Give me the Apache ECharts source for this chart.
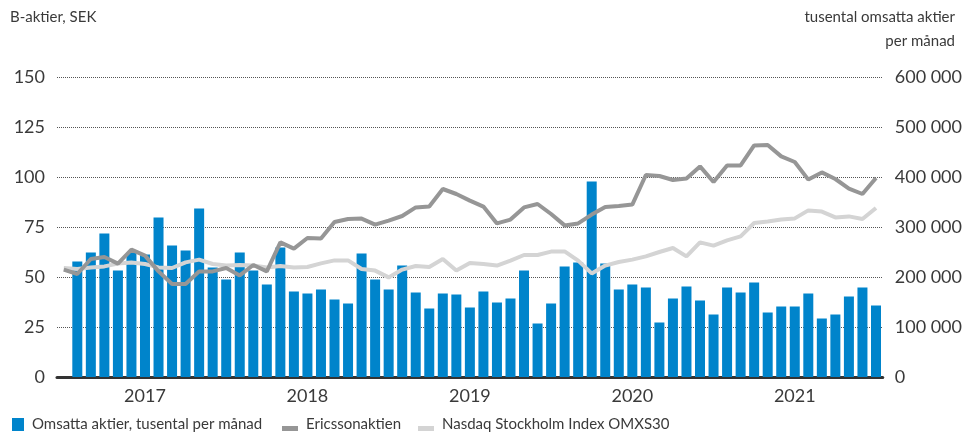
<!DOCTYPE html>
<html>
<head>
<meta charset="utf-8">
<script src="https://cdn.jsdelivr.net/npm/echarts@6/dist/echarts.min.js"></script>
<style>
  html, body { margin: 0; padding: 0; background: #fff; }
  #chart { width: 965px; height: 432px; }
</style>
</head>
<body>
<div id="chart"></div>
<script>
// månader: dec 2016 .. dec 2021 (första kategorin saknar stapel)
const months = [];
for (let y = 2016; y <= 2021; y++) {
    for (let m = 1; m <= 12; m++) {
        if (y === 2016 && m < 12) continue;
        months.push(y + '-' + (m < 10 ? '0' + m : m));
    }
}

// omsatta aktier, tusental per månad
const volume = ['-',
    231000, 249000, 287000, 213000, 249000, 245000, 319000, 263000, 253000, 337000, 219000, 195000,
    249000, 213000, 185000, 259000, 171000, 167000, 175000, 155000, 147000, 247000, 195000, 175000,
    223000, 169000, 137000, 167000, 165000, 139000, 171000, 149000, 157000, 213000, 107000, 147000,
    221000, 229000, 391000, 227000, 175000, 185000, 179000, 109000, 157000, 181000, 153000, 125000,
    179000, 169000, 189000, 129000, 141000, 141000, 167000, 117000, 125000, 161000, 179000, 143000
];

// Ericssonaktien, SEK
const ericsson = [53.7,
    51.5, 59.0, 60.0, 56.7, 63.7, 60.7, 52.8, 46.5, 46.5, 52.8, 52.8, 54.5,
    50.8, 56.0, 52.8, 67.3, 64.2, 69.5, 69.2, 77.5, 79.0, 79.2, 76.2, 78.2,
    80.5, 84.8, 85.3, 94.0, 91.5, 88.2, 85.2, 76.8, 78.7, 84.8, 86.5, 81.5,
    75.8, 76.8, 81.2, 85.0, 85.5, 86.2, 101.0, 100.5, 98.5, 99.2, 105.3, 97.5,
    105.8, 105.8, 115.8, 116.0, 110.3, 107.5, 98.7, 102.3, 99.0, 94.2, 91.5, 99.5
];

// Nasdaq Stockholm Index OMXS30 (indexerat)
const omxs30 = [54.5,
    54.0, 54.8, 55.3, 56.7, 57.3, 56.5, 54.8, 54.5, 57.3, 58.7, 56.5, 55.8,
    56.0, 55.8, 54.8, 55.5, 54.8, 55.0, 56.8, 58.3, 58.3, 54.0, 53.2, 49.8,
    53.7, 55.5, 55.0, 59.0, 53.2, 57.0, 56.5, 55.7, 58.2, 61.0, 61.0, 62.7,
    62.8, 58.2, 51.8, 55.7, 57.5, 58.7, 60.3, 62.5, 64.5, 60.3, 67.3, 65.7,
    68.3, 70.3, 77.0, 77.8, 78.7, 79.3, 83.3, 82.7, 79.8, 80.3, 79.0, 84.5
];

const names = ['Omsatta aktier, tusental per månad', 'Ericssonaktien', 'Nasdaq Stockholm Index OMXS30'];
const colors = ['#0084cb', '#969696', '#d4d4d4'];

const font = 'Lato, "Noto Sans", sans-serif';
const textColor = '#3a3a3a';

function spaced(v) {
    return String(v).replace(/\B(?=(\d{3})+(?!\d))/g, ' ');
}

// liten platt rektangel längst ner i ikonrutan
const flatIcon = 'path://M0,0L16,0L16,0.01L0,0.01Z M0,8L16,8L16,13L0,13Z';

function legendAt(left, name, icon, w) {
    return {
        left: left,
        top: 417,
        padding: 0,
        data: [name],
        icon: icon,
        itemWidth: w,
        itemHeight: 13,
        itemStyle: { borderWidth: 0 },
        selectedMode: false,
        textStyle: { fontFamily: font, fontSize: 15, color: textColor, padding: [0, 0, 0, 3] }
    };
}

function titleAt(text, pos) {
    return Object.assign({
        text: text,
        padding: 0,
        textStyle: { fontFamily: font, fontSize: 15, fontWeight: 'normal', color: textColor }
    }, pos);
}

const chart = echarts.init(document.getElementById('chart'), null, { renderer: 'canvas' });

chart.setOption({
    animation: false,
    title: [
        titleAt('B-aktier, SEK', { left: 10, top: 10 }),
        titleAt('tusental omsatta aktier', { right: 10, top: 10 }),
        titleAt('per månad', { right: 10, top: 34 })
    ],
    legend: [
        legendAt(12, names[0], 'rect', 12),
        legendAt(282, names[1], flatIcon, 16),
        legendAt(418, names[2], flatIcon, 16)
    ],
    grid: { left: 57, width: 829, top: 77, height: 300 },
    xAxis: {
        type: 'category',
        data: months,
        boundaryGap: true,
        axisLine: { lineStyle: { color: '#333', width: 3 } },
        axisTick: { show: false },
        axisLabel: {
            interval: (i) => i % 12 === 6,
            formatter: (v) => v.slice(0, 4),
            margin: 10,
            fontFamily: font, fontSize: 18, color: textColor
        }
    },
    yAxis: [
        {
            type: 'value',
            min: 0, max: 150, interval: 25,
            axisLine: { show: false },
            axisTick: { show: false },
            axisLabel: { margin: 12, fontFamily: font, fontSize: 18, color: textColor, verticalAlign: 'middle', padding: [11, 0, 0, 0] },
            splitLine: { lineStyle: { type: 'dotted', color: '#555', width: 1 } }
        },
        {
            type: 'value',
            min: 0, max: 600000, interval: 100000,
            axisLine: { show: false },
            axisTick: { show: false },
            axisLabel: { margin: 12, fontFamily: font, fontSize: 18, color: textColor, verticalAlign: 'middle', padding: [11, 0, 0, 0], formatter: spaced },
            splitLine: { show: false }
        }
    ],
    series: [
        {
            name: names[0],
            type: 'bar',
            yAxisIndex: 1,
            data: volume,
            barWidth: 10,
            itemStyle: { color: colors[0] },
            z: 1
        },
        {
            name: names[2],
            type: 'line',
            yAxisIndex: 0,
            data: omxs30,
            showSymbol: false,
            color: colors[2],
            lineStyle: { color: colors[2], width: 4 },
            z: 3
        },
        {
            name: names[1],
            type: 'line',
            yAxisIndex: 0,
            data: ericsson,
            showSymbol: false,
            color: colors[1],
            lineStyle: { color: colors[1], width: 4 },
            z: 4
        }
    ]
});
</script>
</body>
</html>
